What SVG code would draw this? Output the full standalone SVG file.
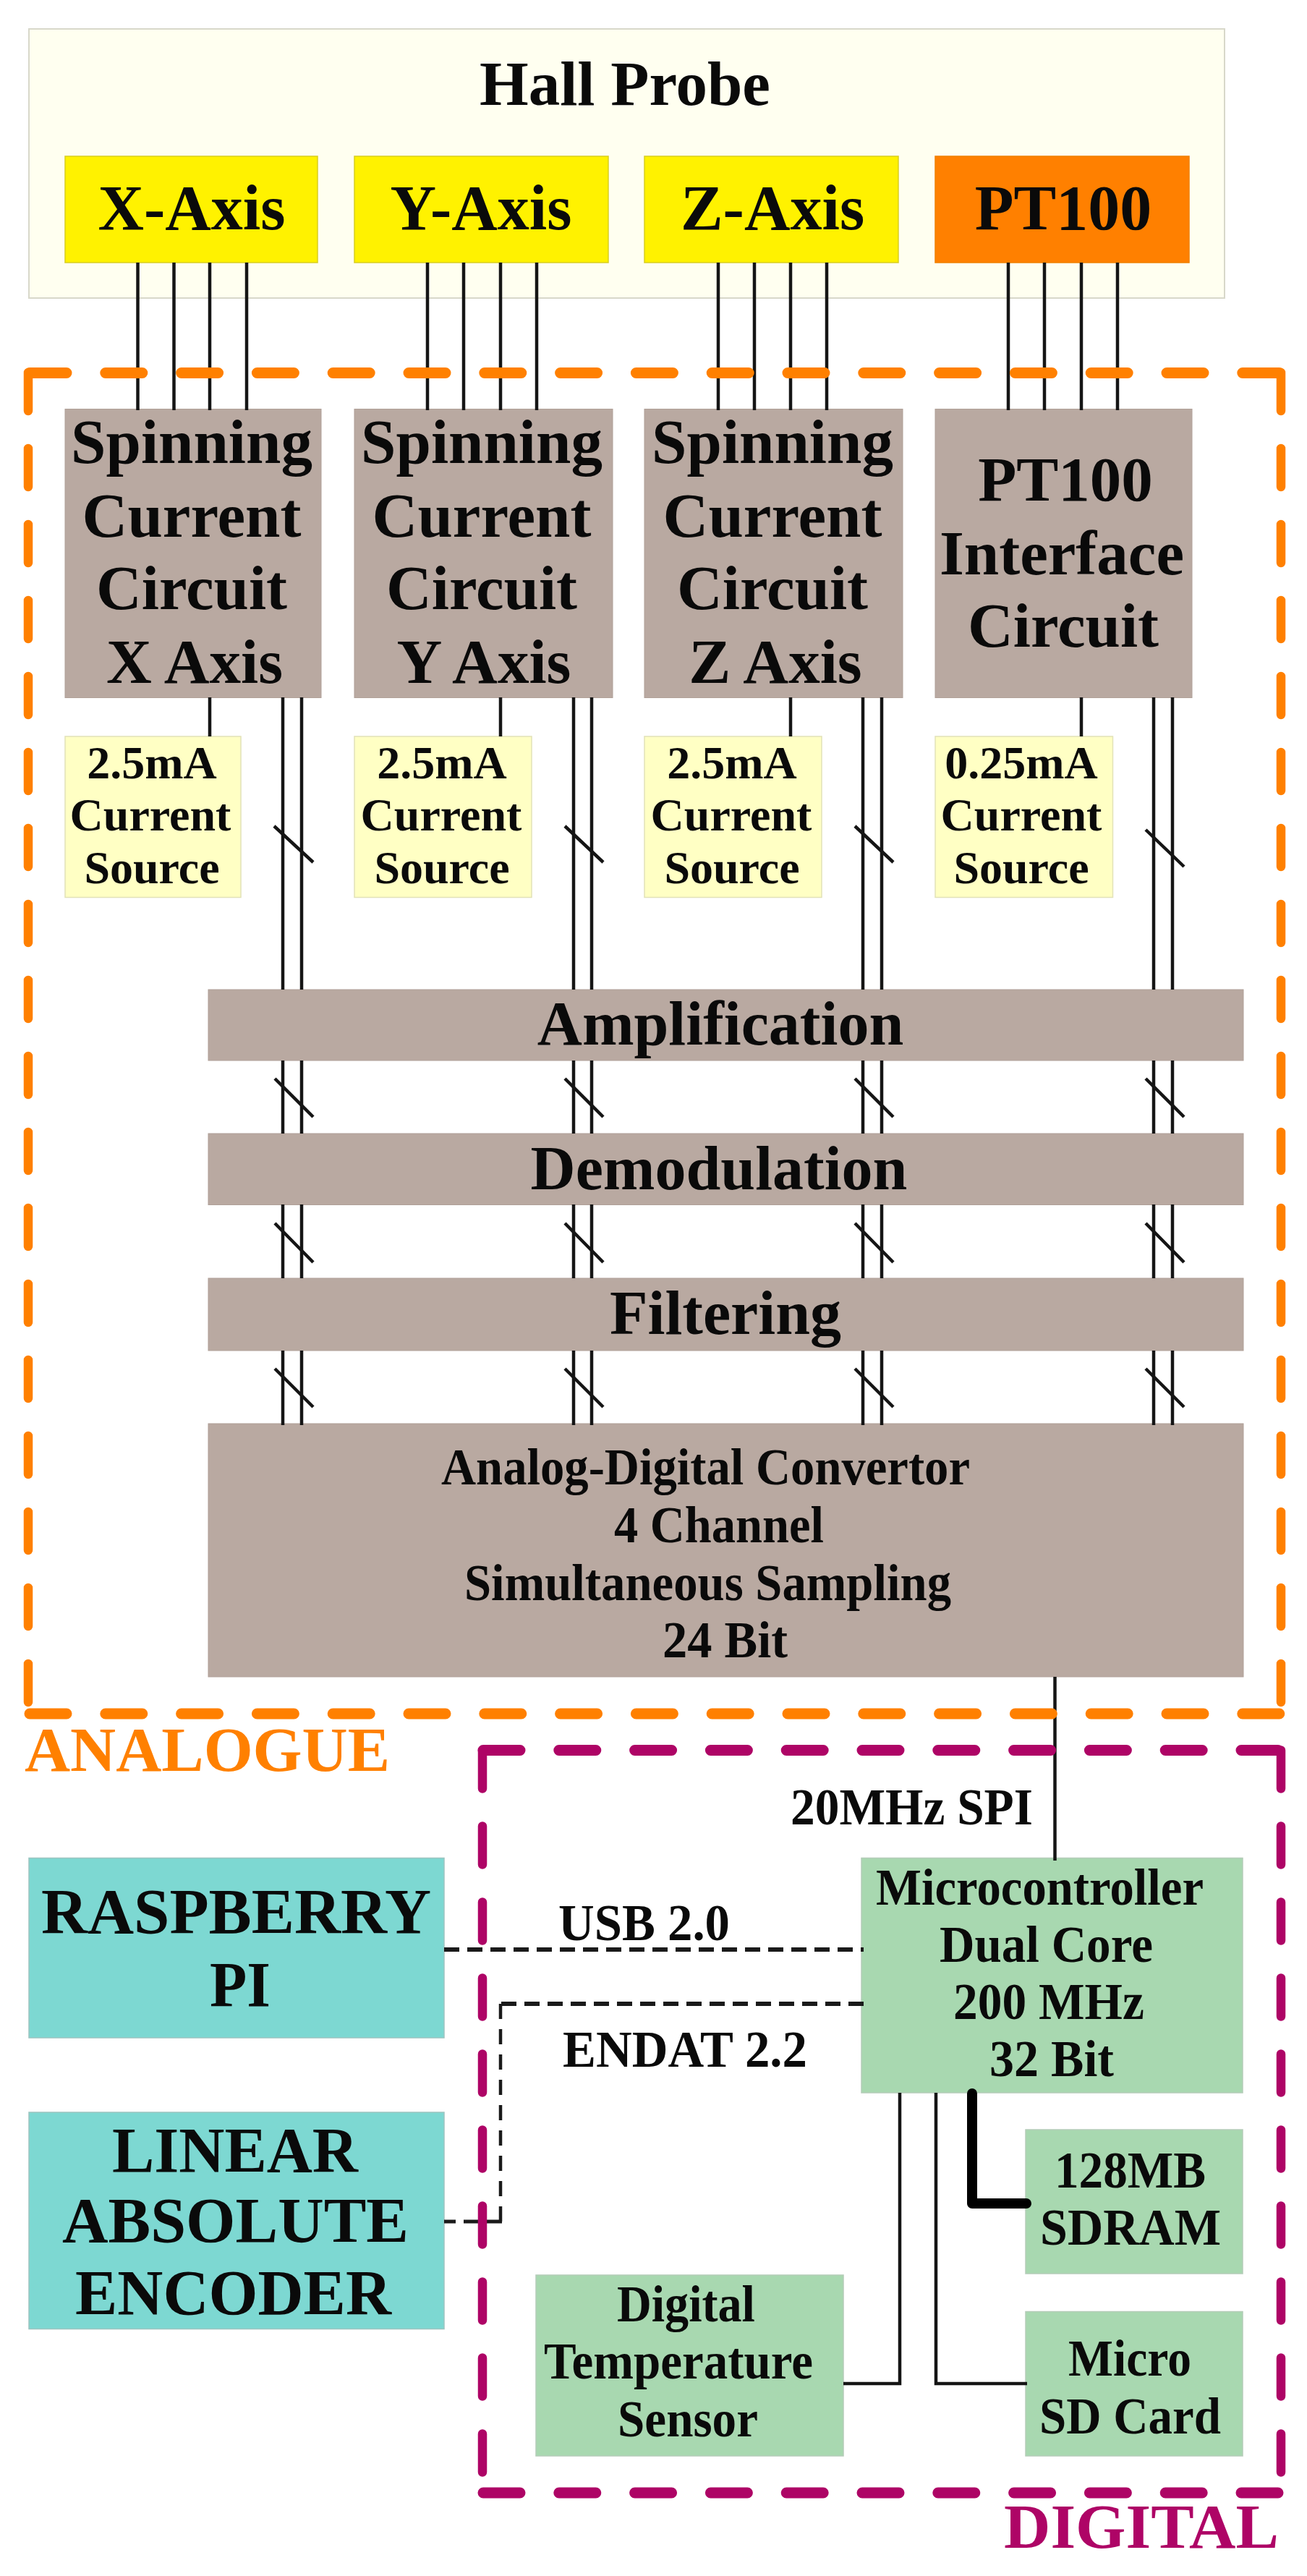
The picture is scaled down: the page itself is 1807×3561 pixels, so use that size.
<svg xmlns="http://www.w3.org/2000/svg" width="1807" height="3561" viewBox="0 0 1807 3561">
<style>
text{font-family:"Liberation Serif","Times New Roman",serif;font-weight:bold;fill:#0a0a0a;text-anchor:middle}
.f88{font-size:88px}.f87{font-size:87px}.f65{font-size:64px}.f86{font-size:86px}.f71{font-size:71px}.f90{font-size:89px}
.hall{fill:#FFFFF0;stroke:#D8D8CA;stroke-width:2}
.yel{fill:#FFF200;stroke:#D8CE20;stroke-width:1.5}
.org{fill:#FF8000;stroke:#F08000;stroke-width:1.5}
.gray{fill:#B9A9A1;stroke:#B0A098;stroke-width:1}
.src{fill:#FFFFC4;stroke:#E2E2B8;stroke-width:1.5}
.teal{fill:#7DD8D2;stroke:#9CC4C0;stroke-width:1.5}
.green{fill:#A8D8B0;stroke:#B4CCB8;stroke-width:1.5}
.w{fill:none;stroke:#151515;stroke-width:4.500}
.d{fill:none;stroke:#1a1a1a;stroke-width:6;stroke-dasharray:21 11}
.dv{fill:none;stroke:#1a1a1a;stroke-width:4.500;stroke-dasharray:21 14}
.thick{fill:none;stroke:#000;stroke-width:14;stroke-linejoin:round;stroke-linecap:round}
.bA,.bAv{fill:none;stroke:#FF8000;stroke-linecap:round}
.bD,.bDv{fill:none;stroke:#AE0466;stroke-linecap:round}
.bA,.bD{stroke-width:15;stroke-dasharray:51 53.800}
.bAv,.bDv{stroke-width:12.500;stroke-dasharray:53 52}
</style>
<g id="hall-probe"><rect class="hall" x="40" y="40" width="1653" height="372"/><text class="f87" x="864" y="145">Hall Probe</text></g>
<g id="x-axis"><rect class="yel" x="90" y="216" width="349" height="147"/><text class="f88" x="265" y="317">X-Axis</text></g>
<g id="y-axis"><rect class="yel" x="490" y="216" width="351" height="147"/><text class="f88" x="665" y="317">Y-Axis</text></g>
<g id="z-axis"><rect class="yel" x="891" y="216" width="351" height="147"/><text class="f88" x="1068" y="317">Z-Axis</text></g>
<g id="pt100"><rect class="org" x="1293" y="216" width="351" height="147"/><text class="f88" x="1470" y="317">PT100</text></g>
<g id="spin-x"><rect class="gray" x="90" y="565.500" width="354" height="399"/><text class="f87" x="265" y="640">Spinning</text><text class="f87" x="265" y="742">Current</text><text class="f87" x="265" y="842">Circuit</text><text class="f87" x="269" y="943.500">X Axis</text></g>
<g id="spin-y"><rect class="gray" x="490" y="565.500" width="357" height="399"/><text class="f87" x="666" y="640">Spinning</text><text class="f87" x="666" y="742">Current</text><text class="f87" x="666" y="842">Circuit</text><text class="f87" x="669" y="943.500">Y Axis</text></g>
<g id="spin-z"><rect class="gray" x="891" y="565.500" width="357" height="399"/><text class="f87" x="1068" y="640">Spinning</text><text class="f87" x="1068" y="742">Current</text><text class="f87" x="1068" y="842">Circuit</text><text class="f87" x="1072" y="943.500">Z Axis</text></g>
<g id="pt100-interface"><rect class="gray" x="1293" y="565.500" width="355" height="399"/><text class="f87" x="1473" y="692">PT100</text><text class="f87" x="1468" y="794">Interface</text><text class="f87" x="1470" y="894">Circuit</text></g>
<g id="src-x"><rect class="src" x="90" y="1018" width="243" height="222.500"/><text class="f65" x="210" y="1076">2.5mA</text><text class="f65" x="208" y="1147.500">Current</text><text class="f65" x="210" y="1220.500">Source</text></g>
<g id="src-y"><rect class="src" x="490" y="1018" width="245" height="222.500"/><text class="f65" x="611" y="1076">2.5mA</text><text class="f65" x="610" y="1147.500">Current</text><text class="f65" x="611" y="1220.500">Source</text></g>
<g id="src-z"><rect class="src" x="891" y="1018" width="245" height="222.500"/><text class="f65" x="1012" y="1076">2.5mA</text><text class="f65" x="1011" y="1147.500">Current</text><text class="f65" x="1012" y="1220.500">Source</text></g>
<g id="src-pt"><rect class="src" x="1293" y="1018" width="245.500" height="222.500"/><text class="f65" x="1412" y="1076">0.25mA</text><text class="f65" x="1412" y="1147.500">Current</text><text class="f65" x="1412" y="1220.500">Source</text></g>
<g id="amplification"><rect class="gray" x="288" y="1368" width="1431" height="98"/><text class="f86" x="996" y="1444">Amplification</text></g>
<g id="demodulation"><rect class="gray" x="288" y="1567" width="1431" height="98.500"/><text class="f86" x="994" y="1644">Demodulation</text></g>
<g id="filtering"><rect class="gray" x="288" y="1767" width="1431" height="100"/><text class="f86" x="1003" y="1844">Filtering</text></g>
<g id="adc"><rect class="gray" x="288" y="1968" width="1431" height="350"/><text class="f71" x="975.500" y="2052" textLength="731" lengthAdjust="spacingAndGlyphs">Analog-Digital Convertor</text><text class="f71" x="994" y="2132" textLength="290" lengthAdjust="spacingAndGlyphs">4 Channel</text><text class="f71" x="978.500" y="2212" textLength="673" lengthAdjust="spacingAndGlyphs">Simultaneous Sampling</text><text class="f71" x="1002.500" y="2291" textLength="173" lengthAdjust="spacingAndGlyphs">24 Bit</text></g>
<g id="raspberry-pi"><rect class="teal" x="40" y="2568.500" width="574" height="248.500"/><text class="f90" x="326.500" y="2672" textLength="539" lengthAdjust="spacingAndGlyphs">RASPBERRY</text><text class="f90" x="332" y="2773" textLength="84" lengthAdjust="spacingAndGlyphs">PI</text></g>
<g id="encoder"><rect class="teal" x="40" y="2920" width="574" height="299.500"/><text class="f90" x="325" y="3002" textLength="340" lengthAdjust="spacingAndGlyphs">LINEAR</text><text class="f90" x="325.500" y="3099" textLength="479" lengthAdjust="spacingAndGlyphs">ABSOLUTE</text><text class="f90" x="322.500" y="3199" textLength="437" lengthAdjust="spacingAndGlyphs">ENCODER</text></g>
<g id="microcontroller"><rect class="green" x="1191" y="2568.500" width="527" height="324.500"/><text class="f71" x="1437.500" y="2633" textLength="453" lengthAdjust="spacingAndGlyphs">Microcontroller</text><text class="f71" x="1446.500" y="2712" textLength="295" lengthAdjust="spacingAndGlyphs">Dual Core</text><text class="f71" x="1450" y="2791" textLength="264" lengthAdjust="spacingAndGlyphs">200 MHz</text><text class="f71" x="1454" y="2870" textLength="172" lengthAdjust="spacingAndGlyphs">32 Bit</text></g>
<g id="sdram"><rect class="green" x="1418" y="2944" width="300" height="199"/><text class="f71" x="1562.500" y="3024" textLength="209" lengthAdjust="spacingAndGlyphs">128MB</text><text class="f71" x="1563" y="3103" textLength="250" lengthAdjust="spacingAndGlyphs">SDRAM</text></g>
<g id="sd-card"><rect class="green" x="1418" y="3195.500" width="300" height="199.500"/><text class="f71" x="1562" y="3284" textLength="170" lengthAdjust="spacingAndGlyphs">Micro</text><text class="f71" x="1562.500" y="3364" textLength="251" lengthAdjust="spacingAndGlyphs">SD Card</text></g>
<g id="temp-sensor"><rect class="green" x="741" y="3145" width="425" height="250"/><text class="f71" x="948.500" y="3208.500" textLength="191" lengthAdjust="spacingAndGlyphs">Digital</text><text class="f71" x="938" y="3288" textLength="372" lengthAdjust="spacingAndGlyphs">Temperature</text><text class="f71" x="951" y="3367.500" textLength="194" lengthAdjust="spacingAndGlyphs">Sensor</text></g>
<g id="connectors">
<path class="w" d="M190.500 363V567M240.500 363V567M290 363V567M341 363V567M591 363V567M641 363V567M692 363V567M742 363V567M993 363V567M1043 363V567M1093 363V567M1143 363V567M1394 363V567M1444 363V567M1495 363V567M1545 363V567"/>
<path class="w" d="M290 964V1018M692 964V1018M1093 964V1018M1495 964V1018"/>
<path class="w" d="M391 964V1368M417 964V1368M793 964V1368M818 964V1368M1193 964V1368M1219 964V1368M1595 964V1368M1621 964V1368"/>
<path class="w" d="M391 1466V1567M417 1466V1567M793 1466V1567M818 1466V1567M1193 1466V1567M1219 1466V1567M1595 1466V1567M1621 1466V1567"/>
<path class="w" d="M391 1665V1767M417 1665V1767M793 1665V1767M818 1665V1767M1193 1665V1767M1219 1665V1767M1595 1665V1767M1621 1665V1767"/>
<path class="w" d="M391 1867V1970M417 1867V1970M793 1867V1970M818 1867V1970M1193 1867V1970M1219 1867V1970M1595 1867V1970M1621 1867V1970"/>
<path class="w" d="M379 1142L433 1192M781 1142L834 1192M1182 1142L1235 1192M1584 1147L1637 1198"/>
<path class="w" d="M380 1491L433 1544M781 1491L834 1544M1182 1491L1235 1544M1584 1491L1637 1544"/>
<path class="w" d="M380 1691L433 1745M781 1691L834 1745M1182 1691L1235 1745M1584 1691L1637 1745"/>
<path class="w" d="M380 1892L433 1945M781 1892L834 1945M1182 1892L1235 1945M1584 1892L1637 1945"/>
<path class="w" d="M1458.500 2318V2572"/>
<path class="d" d="M614 2695H1194"/>
<path class="d" d="M1194 2770H690"/>
<path class="dv" d="M692 2770V3071"/>
<path class="d" d="M694 3071H614" style="stroke-width:5"/>
<path class="w" d="M1166 3295H1244V2893"/>
<path class="w" d="M1294 2893V3295H1420"/>
<path class="thick" d="M1344 2894V3046H1419"/>
</g>
<g id="analogue-boundary">
<path class="bA" d="M41 515.500H1771"/><path class="bAv" d="M39 515V2369"/><path class="bAv" d="M1771 515V2369"/><path class="bA" d="M41 2369H1771"/>
<text class="f86" x="286.500" y="2448" textLength="505" lengthAdjust="spacingAndGlyphs" style="fill:#FF8000">ANALOGUE</text></g>
<g id="digital-boundary">
<path class="bD" d="M668 2419.500H1771"/><path class="bDv" d="M667 2419.500V3446"/><path class="bDv" d="M1771 2419.500V3446"/><path class="bD" d="M668 3446H1771"/>
<text class="f86" x="1578" y="3522" textLength="380" lengthAdjust="spacingAndGlyphs" style="fill:#AE0466">DIGITAL</text></g>
<g id="labels"><text class="f71" x="1260.500" y="2522" textLength="335" lengthAdjust="spacingAndGlyphs">20MHz SPI</text><text class="f71" x="890.500" y="2682" textLength="237" lengthAdjust="spacingAndGlyphs">USB 2.0</text><text class="f71" x="947" y="2857" textLength="338" lengthAdjust="spacingAndGlyphs">ENDAT 2.2</text></g>
</svg>
